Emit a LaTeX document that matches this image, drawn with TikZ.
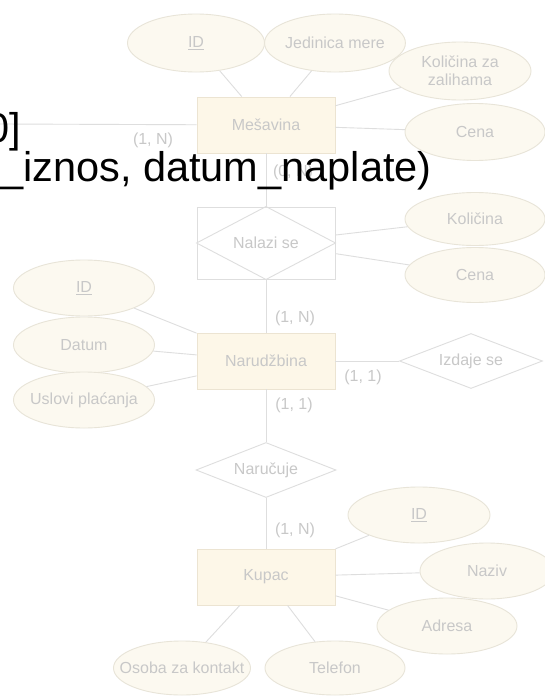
\documentclass[tikz,border=0pt]{standalone}
\usepackage{fontspec}
\setmainfont{Liberation Sans}
\usetikzlibrary{shapes.geometric}
\definecolor{erline}{RGB}{222,222,222}
\definecolor{ertext}{RGB}{200,200,200}
\definecolor{entfill}{RGB}{253,247,232}
\definecolor{entdraw}{RGB}{236,228,210}
\definecolor{attfill}{RGB}{252,249,240}
\definecolor{attdraw}{RGB}{232,228,216}
\newcommand{\diagfont}{\fontsize{16}{18}\selectfont}
\newcommand{\bigfont}{\fontsize{41.5}{48}\selectfont}
\begin{document}
\begin{tikzpicture}[
        x=1pt, y=-1pt,
        entity/.style={draw=entdraw, fill=entfill, line width=0.9pt,
                       minimum width=138pt, minimum height=56pt,
                       inner sep=0pt, text=ertext, font=\diagfont},
        attr/.style={ellipse, draw=attdraw, fill=attfill, line width=0.9pt,
                     minimum width=140pt, minimum height=56pt,
                     inner sep=0pt, align=center, text=ertext, font=\diagfont},
        rel/.style={diamond, aspect=2.5, draw=erline, fill=white, line width=0.9pt,
                    minimum width=140pt, minimum height=55pt,
                    inner sep=0pt, text=ertext, font=\diagfont},
        assoc/.style={draw=erline, fill=white, line width=0.9pt,
                      minimum width=138pt, minimum height=72pt,
                      inner sep=0pt, text=ertext, font=\diagfont},
        card/.style={inner sep=0pt, text=ertext, font=\diagfont},
        conn/.style={draw=erline, line width=0.9pt},
        overlay/.style={inner sep=0pt, text=black, font=\bigfont}
      ]
        \useasboundingbox (0,0) rectangle (545,696);
        \clip (0,0) rectangle (545,696);
        \fill[white] (0,0) rectangle (545,696);

        \coordinate (levo) at (0,124);

        \node[entity] (mesavina) at (266,125) {Mešavina};
        \node[attr, minimum width=137pt, minimum height=58pt] (mesid) at (196,43) {\underline{ID}};
        \node[attr, minimum height=58pt] (jedinica) at (335,43) {Jedinica mere};
        \node[attr, minimum width=142pt, minimum height=58pt] (zalihe) at (460,71)
          {Količina za\\zalihama};
        \node[attr, minimum height=57pt] (mescena) at (475,132) {Cena};

        \node[assoc] (nalazi) at (266,243) {Nalazi se};
        \node[attr, minimum height=53pt] (kolicina) at (475,219) {Količina};
        \node[attr, minimum height=55pt] (stcena) at (475,275) {Cena};

        \node[entity] (narudzbina) at (266,361) {Narudžbina};
        \node[attr, minimum width=141pt] (narid) at (84,288) {\underline{ID}};
        \node[attr, minimum width=141pt] (datum) at (84,345) {Datum};
        \node[attr, minimum width=141pt] (uslovi) at (84,400)
          {\makebox[0pt]{Uslovi plaćanja}};
        \node[rel, minimum width=143pt] (izdaje) at (471,361) {Izdaje se};

        \node[rel] (narucuje) at (266,470) {Naručuje};

        \node[entity] (kupac) at (266,577) {Kupac};
        \node[attr, minimum width=142pt] (kupid) at (419,515) {\underline{ID}};
        \node[attr, minimum width=134pt] (naziv) at (487,571) {Naziv};
        \node[attr] (adresa) at (447,626) {Adresa};
        \node[attr, minimum width=137pt, minimum height=54pt] (osoba) at (182,668)
          {\makebox[0pt]{Osoba za kontakt}};
        \node[attr, minimum height=54pt] (telefon) at (335,668) {Telefon};

        \draw[erline, line width=0.9pt] (nalazi.north) -- (nalazi.east)
          -- (nalazi.south) -- (nalazi.west) -- cycle;

        \draw[conn] (mesid) -- (mesavina);
        \draw[conn] (jedinica) -- (mesavina);
        \draw[conn] (zalihe) -- (mesavina);
        \draw[conn] (mescena) -- (mesavina);
        \draw[conn] (mesavina) -- (levo);
        \draw[conn] (mesavina) -- (nalazi);
        \draw[conn] (nalazi) -- (kolicina);
        \draw[conn] (nalazi) -- (stcena);
        \draw[conn] (nalazi) -- (narudzbina);
        \draw[conn] (narid) -- (narudzbina);
        \draw[conn] (datum) -- (narudzbina);
        \draw[conn] (uslovi) -- (narudzbina);
        \draw[conn] (narudzbina) -- (izdaje);
        \draw[conn] (narudzbina) -- (narucuje);
        \draw[conn] (narucuje) -- (kupac);
        \draw[conn] (kupid) -- (kupac);
        \draw[conn] (naziv) -- (kupac);
        \draw[conn] (adresa) -- (kupac);
        \draw[conn] (osoba) -- (kupac);
        \draw[conn] (telefon) -- (kupac);

        \node[card] (cmesl) at (153,140) {(1, N)};
        \node[card] (cmesd) at (293,172) {(0, N)};
        \node[card] (cnarg) at (295,318) {(1, N)};
        \node[card] (cnard) at (363,377) {(1, 1)};
        \node[card] (cnarj) at (294,405) {(1, 1)};
        \node[card] (ckup) at (295,530) {(1, N)};

        \node[overlay, anchor=base east] (zagrada) at (21,142) {0]};
        \node[overlay, anchor=base west] (atributi) at (0,181)
          {\_iznos, datum\_naplate)};
      \end{tikzpicture}
\end{document}
